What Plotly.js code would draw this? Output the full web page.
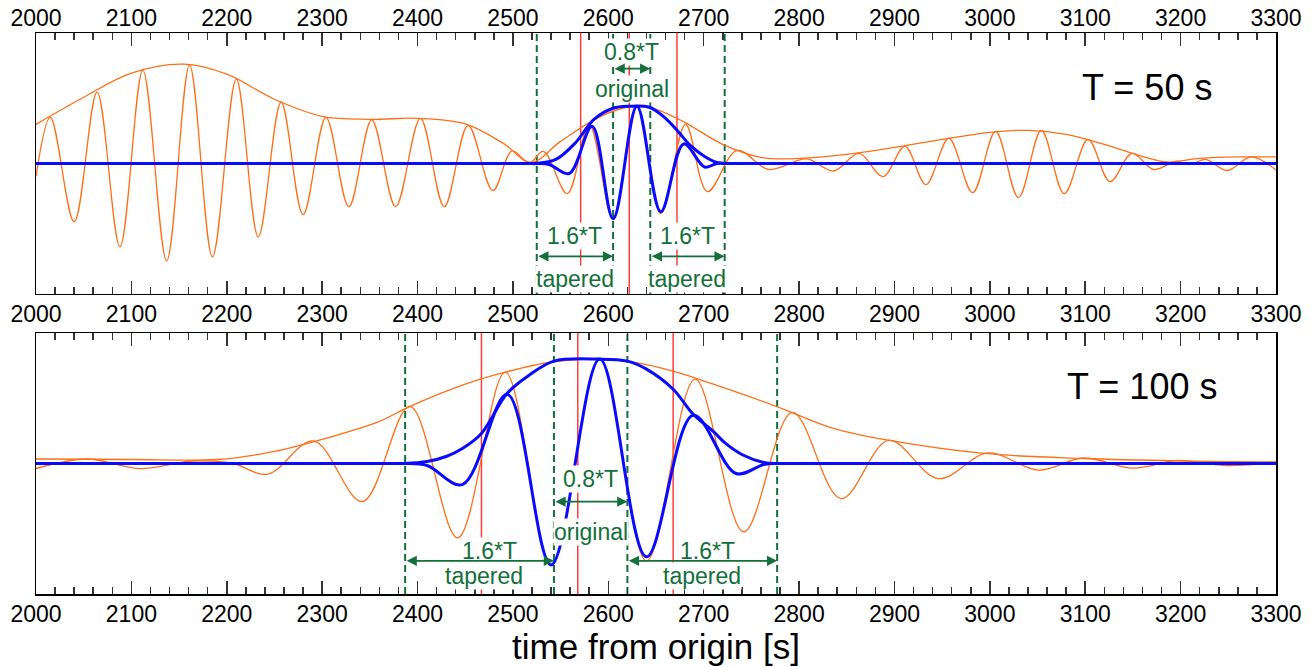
<!DOCTYPE html>
<html>
<head>
<meta charset="utf-8">
<script src="https://cdn.plot.ly/plotly-3.0.1.min.js"></script>
<style>html,body{margin:0;padding:0;background:#fff;}#chart{width:1316px;height:667px;}</style>
</head>
<body>
<div id="chart"></div>
<script>
// ---------- data ----------
// Panel 1: T = 50 s
const t50Wave = [2000,2015,2040,2064,2088,2112,2137,2161,2185,2210,2233,2257,2280,2304,2328,2352,2377,2403,2428,2453,2479,2499,2517,2532,2557,2580,2605,2630,2655,2681,2704,2735,2768,2808,2836,2863,2888,2911,2933,2957,2982,3006,3030,3054,3078,3103,3126,3149,3172,3195,3210,3226,3249,3274,3300];
const y50Wave = [-13,46,-58,71,-83,93,-97,98,-93,84,-73,61,-51,46,-43,43.5,-43,45,-43,38,-27,12.5,0.5,12,-30,39,-55,57,-50,39,-28,13,-6,4.5,-7.5,10,-13,17,-21,25,-29,32,-34,33,-30,24,-18,10,-6,2,-1,4,-7,6.5,-6.5];
const t50Env = [2000,2050,2100,2155,2200,2250,2300,2350,2400,2450,2490,2519,2550,2590,2625,2650,2680,2720,2760,2800,2850,2900,2950,3000,3040,3080,3120,3160,3186,3220,3260,3300];
const y50Env = [39,66,90,99,89,64,47,44,45,39.5,20,1,22,46,57,54,41,19,6,5,9,16,24,31,33,29,19,7,1.5,5,6.5,6.5];
const t50Taper = [2000,2515,2525,2538,2559,2583,2605,2630,2655,2679,2701,2714,2724,3300];
const y50Taper = [0,0,0,-1,-10,37,-55,57,-48,19.5,-3.5,0,0,0];
const t50TaperEnv = [2000,2515,2525,2545,2565,2585,2605,2622,2643,2660,2673,2686,2701,2714,2722,2732,3300];
const y50TaperEnv = [0,0,0,4,20,44,55,57,56,45,32,18,7,1,0,0,0];
const red50 = [2571,2622,2672];
const green50 = [2525,2605,2644,2722];

// Panel 2: T = 100 s
const t100Wave = [2000,2054,2108,2165,2205,2243,2291,2342,2392,2442,2492,2540,2591,2640,2691,2742,2793,2844,2894,2946,2998,3051,3098,3150,3197,3249,3300];
const y100Wave = [-5,4.5,-5,2.5,0.5,-10.5,22.5,-38,57,-74,91,-101,104,-97,84,-68,51,-35,23,-15,10.5,-6.5,5.5,-4.5,3,-2,1];
const t100Env = [2000,2100,2190,2250,2300,2360,2390,2450,2492,2540,2590,2620,2668,2710,2776,2836,2895,2994,3098,3198,3300];
const y100Env = [4.5,4,4,12,24,42,56,79,91,101,104,102,92,79,57,35,23,10,5,2.7,1.7];
const t100Taper = [2000,2377,2387,2410,2447,2494,2540,2591,2640,2689,2734,2763,2777,2787,3300];
const y100Taper = [0,0,0,-2,-21,69,-101,104,-93,48,-10,-1,0,0,0];
const t100TaperEnv = [2000,2377,2387,2410,2430,2447,2467,2494,2517,2543,2590,2620,2640,2668,2689,2710,2723,2740,2763,2777,2787,3300];
const y100TaperEnv = [0,0,0,2,7,15,30,70,88,102,104,102,94,74,49,32,20,9,1,0,0,0];
const red100 = [2467,2568,2668];
const green100 = [2387,2543,2620,2777];

const periodLabels = ['T = 50 s','T = 100 s'];
const windowLabels = {orig: '0.8*T', origSub: 'original', taper: '1.6*T', taperSub: 'tapered'};
const xTitle = 'time from origin [s]';

// ---------- styles ----------
const ORANGE = '#ff6f17';
const BLUE = '#0a0aff';
const RED = '#ff3c3c';
const GREEN = '#13703a';
const FONT = 'Liberation Sans, Arial, sans-serif';

function line(x, y, color, width, xa, ya) {
  return {x: x, y: y, type: 'scatter', mode: 'lines', xaxis: xa, yaxis: ya,
    line: {color: color, width: width, shape: 'spline', smoothing: 1},
    hoverinfo: 'skip', showlegend: false};
}

const traces = [
  line(t50Wave, y50Wave, ORANGE, 1.3, 'x', 'y'),
  line(t50Env, y50Env, ORANGE, 1.3, 'x', 'y'),
  line(t50TaperEnv, y50TaperEnv, BLUE, 3, 'x', 'y'),
  line(t50Taper, y50Taper, BLUE, 3, 'x', 'y'),
  line(t100Wave, y100Wave, ORANGE, 1.3, 'x2', 'y2'),
  line(t100Env, y100Env, ORANGE, 1.3, 'x2', 'y2'),
  line(t100TaperEnv, y100TaperEnv, BLUE, 3, 'x2', 'y2'),
  line(t100Taper, y100Taper, BLUE, 3, 'x2', 'y2'),
  {x: [2000, 3300], y: [0, 0], xaxis: 'x3', yaxis: 'y2', type: 'scatter', mode: 'none', hoverinfo: 'skip', showlegend: false}
];

const shapes = [];
function vlines(vals, yref, color, width, dash) {
  vals.forEach(v => shapes.push({type: 'line', xref: yref === 'y' ? 'x' : 'x2', yref: yref + ' domain',
    x0: v, x1: v, y0: 0, y1: 1, layer: 'below', line: {color: color, width: width, dash: dash}}));
}
vlines(red50, 'y', RED, 1.5, 'solid');
vlines(red100, 'y2', RED, 1.5, 'solid');
vlines(green50, 'y', GREEN, 2, '7px,4px');
vlines(green100, 'y2', GREEN, 2, '7px,4px');

const textAnn = [];
const arrowAnn = [];
function label(text, x, y, xa, ya, size, color, bg) {
  textAnn.push({text: text, x: x, y: y, xref: xa, yref: ya, showarrow: false,
    font: {family: FONT, size: size, color: color}, bgcolor: bg, borderpad: 0,
    xanchor: 'center', yanchor: 'middle'});
}
function arrow(x0, x1, y, xa, ya) {
  arrowAnn.push({text: '', x: x1, y: y, ax: x0, ay: y, xref: xa, yref: ya, axref: xa, ayref: ya,
    showarrow: true, arrowside: 'end+start', arrowhead: 2, arrowsize: 1.2, arrowwidth: 1.7,
    arrowcolor: GREEN, standoff: 0, startstandoff: 0});
}
function windows(g, xa, ya, yo, yt, dx) {
  const mO = (g[1] + g[2]) / 2, mL = (g[0] + g[1]) / 2, mR = (g[2] + g[3]) / 2;
  label(windowLabels.orig, mO, yo[0], xa, ya, 23, GREEN, 'white');
  label(windowLabels.origSub, mO, yo[2], xa, ya, 23, GREEN, 'white');
  arrow(g[1], g[2], yo[1], xa, ya);
  label(windowLabels.taper, mL + dx, yt[0], xa, ya, 23, GREEN, 'white');
  label(windowLabels.taperSub, mL + dx / 2, yt[2], xa, ya, 23, GREEN, 'white');
  arrow(g[0], g[1], yt[1], xa, ya);
  label(windowLabels.taper, mR + dx / 2, yt[0], xa, ya, 23, GREEN, 'white');
  label(windowLabels.taperSub, mR, yt[2], xa, ya, 23, GREEN, 'white');
  arrow(g[2], g[3], yt[1], xa, ya);
}
windows(green50, 'x', 'y', [111, 94.5, 74.5], [-72.5, -92.5, -115.5], 0);
windows(green100, 'x2', 'y2', [-15.5, -38, -68.5], [-87.5, -97, -112.5], 10);
label(periodLabels[0], 3165, 76, 'x', 'y', 36, 'black', 'rgba(0,0,0,0)');
label(periodLabels[1], 3160, 77, 'x2', 'y2', 36, 'black', 'rgba(0,0,0,0)');

const xBase = {
  range: [2000, 3300], autorange: false, tick0: 2000, dtick: 100,
  ticks: 'inside', ticklen: 13, tickwidth: 1.5, tickcolor: '#333',
  minor: {ticks: 'inside', ticklen: 7, tickwidth: 1.5, tickcolor: '#333', dtick: 20, tick0: 2000, showgrid: false},
  mirror: 'allticks', showline: true, linecolor: 'black', linewidth: 1.5,
  showgrid: false, zeroline: false, automargin: false,
  tickfont: {family: FONT, size: 23, color: 'black'}
};
const yBase = {
  range: [-130, 130], autorange: false, showticklabels: false, ticks: '',
  showline: true, mirror: true, linecolor: 'black', linewidth: 1.5,
  showgrid: false, zeroline: false, automargin: false
};

const layout = {
  width: 1316, height: 667,
  margin: {l: 36, r: 40, t: 33, b: 73, pad: 0},
  paper_bgcolor: 'white', plot_bgcolor: 'white',
  showlegend: false,
  xaxis: Object.assign({}, xBase, {anchor: 'y', side: 'top', ticklabelstandoff: -4}),
  yaxis: Object.assign({}, yBase, {domain: [0.5348, 1], anchor: 'x'}),
  xaxis2: Object.assign({}, xBase, {anchor: 'y2', side: 'bottom', ticklabelstandoff: -1,
    title: {text: xTitle, font: {family: FONT, size: 35, color: 'black'}, standoff: 4}}),
  yaxis2: Object.assign({}, yBase, {domain: [0, 0.4652], anchor: 'x2'}),
  xaxis3: {overlaying: 'x2', anchor: 'y2', side: 'top', range: [2000, 3300], autorange: false,
    tick0: 2000, dtick: 100, ticks: '', showline: false, showgrid: false, zeroline: false,
    automargin: false, ticklabelstandoff: 5, tickfont: {family: FONT, size: 23, color: 'black'}},
  shapes: shapes,
  annotations: textAnn.concat(arrowAnn)
};

Plotly.newPlot('chart', traces, layout, {staticPlot: true, displayModeBar: false});
</script>
</body>
</html>
